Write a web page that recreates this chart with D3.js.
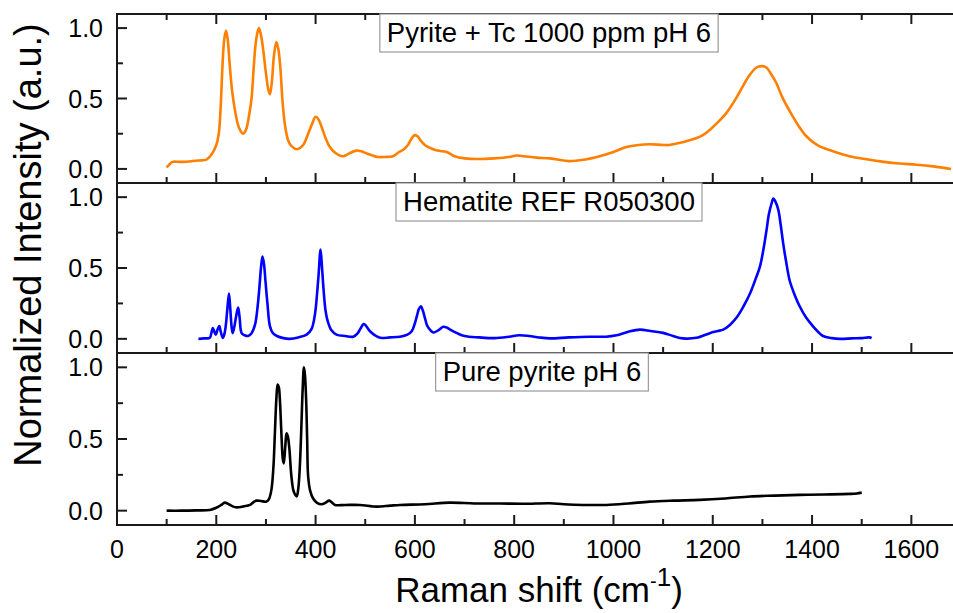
<!DOCTYPE html>
<html lang="en">
  <head>
    <meta charset="utf-8" />
    <title>Raman spectra</title>
    <script src="https://d3js.org/d3.v7.min.js"></script>
    <style>
      body {
        margin: 0;
        background: #fff;
        font-family: "Liberation Sans", Arial, sans-serif;
      }
      .spec {
        fill: none;
        stroke-width: 2.6px;
        stroke-linejoin: round;
      }
      .frame {
        fill: none;
        stroke: #1a1a1a;
        stroke-width: 2px;
      }
      .tick {
        stroke: #1a1a1a;
        stroke-width: 2px;
      }
    </style>
  </head>
  <body>
    <svg id="chart" width="953" height="613"></svg>
    <script>
      // spectra, [Raman shift, normalized intensity]
      const pyriteTc = [
        [100, 0.01], [105, 0.03], [112, 0.05], [125, 0.05], [135, 0.05], [150, 0.055],
        [165, 0.06], [180, 0.066], [190, 0.1], [200, 0.17], [205, 0.25], [209, 0.45],
        [212, 0.7], [216, 0.92], [219.5, 0.98], [223, 0.92], [227, 0.74], [232, 0.55],
        [238, 0.41], [245, 0.3], [254, 0.25], [260, 0.28], [266, 0.38], [271, 0.5],
        [275, 0.7], [279, 0.88], [283, 0.97], [286, 1.0], [290, 0.95], [295, 0.83],
        [300, 0.68], [305, 0.56], [308, 0.53], [312, 0.62], [316, 0.8], [321, 0.9],
        [325, 0.85], [329, 0.72], [333, 0.5], [338, 0.32], [345, 0.2], [352, 0.16],
        [362, 0.14], [375, 0.17], [385, 0.25], [393, 0.32], [400, 0.37], [406, 0.35],
        [412, 0.3], [420, 0.22], [428, 0.16], [436, 0.125], [446, 0.1], [456, 0.09],
        [468, 0.11], [482, 0.13], [492, 0.125], [503, 0.11], [515, 0.095], [525, 0.085],
        [540, 0.085], [556, 0.09], [568, 0.12], [578, 0.14], [586, 0.17], [594, 0.22],
        [600, 0.24], [606, 0.23], [612, 0.2], [620, 0.17], [630, 0.15], [645, 0.13],
        [664, 0.12], [680, 0.09], [700, 0.075], [730, 0.07], [760, 0.075], [790, 0.085],
        [805, 0.095], [820, 0.09], [845, 0.08], [872, 0.075], [900, 0.06], [912, 0.055],
        [940, 0.065], [972, 0.09], [1000, 0.12], [1026, 0.155], [1050, 0.17], [1073, 0.175],
        [1100, 0.17], [1113, 0.17], [1140, 0.19], [1160, 0.21], [1180, 0.24], [1195, 0.28],
        [1210, 0.33], [1228, 0.4], [1245, 0.49], [1261, 0.59], [1275, 0.67], [1288, 0.72],
        [1298, 0.73], [1308, 0.72], [1318, 0.67], [1328, 0.61], [1340, 0.51], [1355, 0.41],
        [1372, 0.31], [1389, 0.23], [1410, 0.17], [1442, 0.125], [1475, 0.09], [1510, 0.068],
        [1545, 0.05], [1577, 0.038], [1610, 0.03], [1644, 0.018], [1680, 0.0]
      ];

      const hematite = [
        [164, 0.0], [175, 0.003], [187, 0.007], [190, 0.04], [193, 0.077], [196, 0.05],
        [199, 0.03], [202, 0.06], [206, 0.09], [209, 0.05], [213, 0.007], [216, 0.03],
        [219, 0.09], [222, 0.2], [225.5, 0.32], [228, 0.22], [231, 0.08], [233, 0.04],
        [236, 0.08], [240, 0.16], [244, 0.22], [247, 0.15], [251, 0.04], [257, 0.025],
        [264, 0.02], [271, 0.04], [278, 0.1], [283, 0.22], [287, 0.37], [290, 0.5],
        [293, 0.58], [296, 0.53], [299, 0.41], [303, 0.25], [308, 0.09], [314, 0.04],
        [322, 0.02], [335, 0.005], [348, 0.0], [365, 0.01], [382, 0.03], [392, 0.07],
        [399, 0.18], [403, 0.32], [406, 0.45], [410, 0.63], [413, 0.5], [416, 0.35],
        [420, 0.2], [424, 0.13], [432, 0.06], [442, 0.03], [460, 0.02], [476, 0.015],
        [485, 0.04], [490, 0.07], [497, 0.105], [502, 0.09], [508, 0.06], [514, 0.04],
        [522, 0.02], [530, 0.007], [550, 0.01], [570, 0.015], [585, 0.03], [594, 0.055],
        [600, 0.11], [604, 0.16], [608, 0.21], [612, 0.23], [616, 0.2], [620, 0.15],
        [624, 0.1], [628, 0.075], [637, 0.045], [647, 0.06], [657, 0.085], [664, 0.08],
        [671, 0.065], [685, 0.04], [700, 0.02], [730, 0.01], [760, 0.005], [790, 0.015],
        [810, 0.025], [830, 0.02], [850, 0.01], [872, 0.003], [910, 0.01], [952, 0.015],
        [985, 0.015], [1006, 0.025], [1030, 0.05], [1053, 0.065], [1075, 0.055], [1100, 0.042],
        [1120, 0.02], [1140, 0.003], [1167, 0.007], [1194, 0.04], [1210, 0.055], [1221, 0.065],
        [1235, 0.1], [1248, 0.15], [1262, 0.23], [1275, 0.32], [1286, 0.42], [1295, 0.51],
        [1302, 0.63], [1308, 0.76], [1313, 0.88], [1318, 0.95], [1322, 0.99], [1326, 0.97],
        [1332, 0.91], [1337, 0.8], [1342, 0.67], [1348, 0.54], [1355, 0.41], [1365, 0.31],
        [1375, 0.23], [1388, 0.15], [1402, 0.088], [1412, 0.05], [1422, 0.02], [1440, 0.005],
        [1456, 0.0], [1480, 0.003], [1500, 0.005], [1515, 0.01], [1520, 0.006]
      ];

      const purePyrite = [
        [100, 0.0], [130, 0.0], [160, 0.002], [187, 0.005], [200, 0.02], [210, 0.04],
        [217, 0.056], [225, 0.045], [233, 0.03], [241, 0.023], [255, 0.03], [268, 0.04],
        [275, 0.06], [281, 0.07], [290, 0.067], [301, 0.063], [306, 0.08], [311, 0.145],
        [315, 0.3], [318, 0.54], [321, 0.78], [323.5, 0.88], [326, 0.86], [328, 0.78],
        [331, 0.55], [334, 0.36], [336, 0.33], [339, 0.45], [341.5, 0.54], [344, 0.52],
        [347, 0.44], [351, 0.25], [355, 0.145], [359, 0.11], [362, 0.1], [365, 0.15],
        [368, 0.29], [371, 0.55], [374, 0.85], [376.5, 1.0], [378.5, 0.95], [381, 0.77],
        [383, 0.5], [385, 0.24], [389, 0.14], [395, 0.085], [403, 0.055], [412, 0.045],
        [420, 0.055], [427, 0.07], [432, 0.06], [439, 0.04], [460, 0.04], [489, 0.04],
        [523, 0.028], [550, 0.035], [570, 0.04], [620, 0.045], [670, 0.056], [720, 0.05],
        [770, 0.05], [820, 0.048], [872, 0.052], [900, 0.045], [939, 0.04], [986, 0.04],
        [1030, 0.05], [1073, 0.063], [1120, 0.07], [1174, 0.075], [1225, 0.085], [1275, 0.099],
        [1325, 0.105], [1375, 0.11], [1425, 0.113], [1476, 0.117], [1490, 0.12], [1500, 0.126]
      ];

      const panelLabels = ["Pyrite + Tc 1000 ppm pH 6", "Hematite REF R050300", "Pure pyrite pH 6"];
      const panelColors = ["#ff7f00", "#0000ff", "#000000"];
      const xTicks = [0, 200, 400, 600, 800, 1000, 1200, 1400, 1600];
      const yTicks = [0, 0.5, 1.0];

      const svg = d3.select("#chart");
      const left = 117,
        right = 961,
        bands = [[14, 183], [183, 353], [353, 525]];
      const labelCx = [549, 549, 542];

      const x = d3.scaleLinear().domain([0, 1700]).range([left, right]);
      const line = d3.line().curve(d3.curveCatmullRom.alpha(0.5));

      const series = [pyriteTc, hematite, purePyrite];

      series.forEach((data, i) => {
        const [top, bot] = bands[i];
        const y = d3.scaleLinear().domain([-0.1, 1.1]).range([bot, top]);
        const g = svg.append("g");

        // spectrum
        g.append("path")
          .attr("class", "spec")
          .attr("stroke", panelColors[i])
          .attr("d", line.x((d) => x(d[0])).y((d) => y(d[1]))(data));

        // frame
        g.append("rect")
          .attr("class", "frame")
          .attr("x", left)
          .attr("y", top)
          .attr("width", right - left)
          .attr("height", bot - top);

        // x ticks (bottom, pointing in; top panel also top)
        d3.range(0, 1701, 100).forEach((v) => {
          const len = v % 200 === 0 ? 10 : 6;
          g.append("line").attr("class", "tick")
            .attr("x1", x(v)).attr("x2", x(v))
            .attr("y1", bot).attr("y2", bot - len);
          if (i === 0)
            g.append("line").attr("class", "tick")
              .attr("x1", x(v)).attr("x2", x(v))
              .attr("y1", top).attr("y2", top + len);
        });

        // y ticks
        [0, 0.25, 0.5, 0.75, 1.0].forEach((v) => {
          const len = v % 0.5 === 0 ? 10 : 6;
          g.append("line").attr("class", "tick")
            .attr("x1", left).attr("x2", left + len)
            .attr("y1", y(v)).attr("y2", y(v));
        });
        g.selectAll(".ylab")
          .data(yTicks)
          .enter()
          .append("text")
          .attr("x", 103)
          .attr("y", (d) => y(d))
          .attr("dy", "0.36em")
          .attr("text-anchor", "end")
          .attr("font-size", 25)
          .text((d) => d.toFixed(1));

        // label box
        const t = g.append("text")
          .attr("x", labelCx[i])
          .attr("y", top + 28)
          .attr("text-anchor", "middle")
          .attr("font-size", 27.5)
          .text(panelLabels[i]);
        const bb = t.node().getBBox();
        g.insert("rect", "text")
          .attr("x", bb.x - 7)
          .attr("y", top)
          .attr("width", bb.width + 14)
          .attr("height", 38)
          .attr("fill", "#fff")
          .attr("stroke", "#9a9a9a")
          .attr("stroke-width", 1.2);
      });

      // x tick labels
      svg.selectAll(".xlab")
        .data(xTicks)
        .enter()
        .append("text")
        .attr("x", (d) => x(d))
        .attr("y", 558)
        .attr("text-anchor", "middle")
        .attr("font-size", 25)
        .text((d) => d);

      // axis titles
      const xt = svg.append("text")
        .attr("x", 539)
        .attr("y", 602)
        .attr("text-anchor", "middle")
        .attr("font-size", 35)
        .text("Raman shift (cm");
      xt.append("tspan").attr("font-size", 20).attr("dy", -14).text("-");
      xt.append("tspan").attr("font-size", 26).attr("dy", -2).text("1");
      xt.append("tspan").attr("dy", 16).text(")");

      svg.append("text")
        .attr("transform", "translate(41,245) rotate(-90)")
        .attr("text-anchor", "middle")
        .attr("font-size", 38)
        .text("Normalized Intensity (a.u.)");
    </script>
  </body>
</html>
